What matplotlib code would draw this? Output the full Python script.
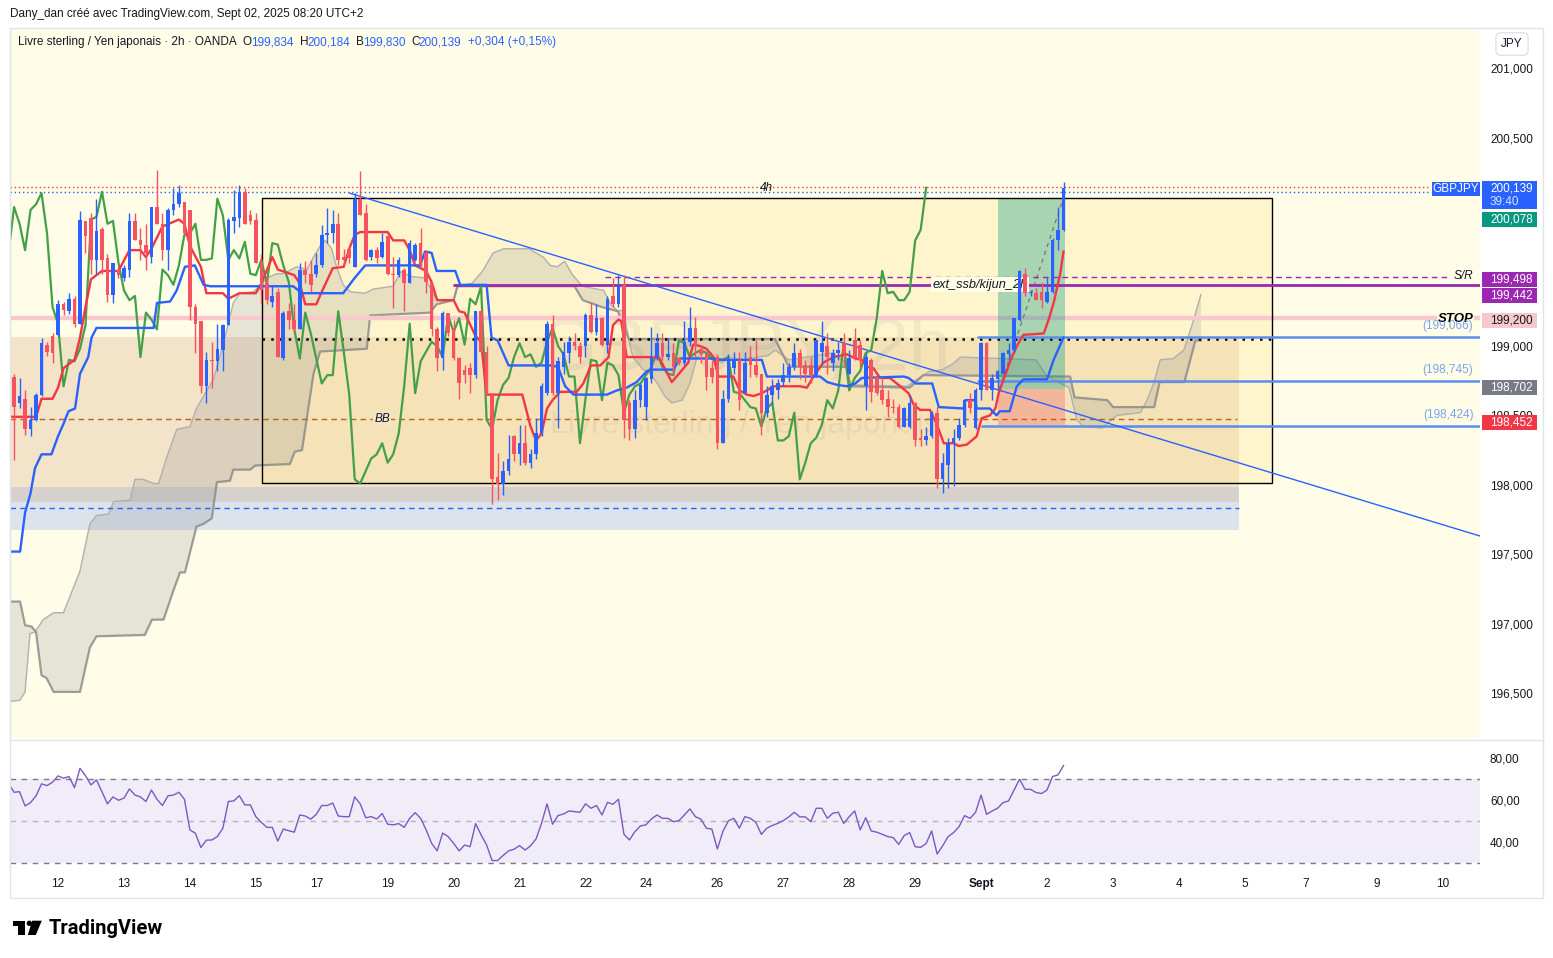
import numpy as np
import matplotlib.pyplot as plt
import matplotlib.transforms as mtransforms
from matplotlib.patches import Rectangle, Polygon, Ellipse
from matplotlib.lines import Line2D

plt.rcParams['font.family'] = ['Liberation Sans', 'DejaVu Sans']

W, H = 1553, 958

# bar index 0 = Tue 12 Aug 2025 00:00 (2h bars, UTC+2); first visible candle is bar -8
first_bar = -8
opens = [198.78, 198.59, 198.62, 198.40, 198.47, 198.65, 199.01, 199.07,
         199.08, 199.30, 199.25, 199.34, 199.16, 199.90, 199.92, 199.62, 199.84, 199.63, 199.37, 199.55,
         199.49, 199.55, 199.90, 199.76, 199.73, 199.64, 200.00, 199.88, 199.69, 199.98, 200.02, 200.04,
         199.98, 199.28, 199.18, 198.71, 198.90, 198.89, 198.97, 199.15, 199.90, 199.92, 200.11, 199.94,
         199.91, 199.60, 199.45, 199.32, 199.39, 198.91, 199.25, 199.19, 199.12, 199.55, 199.52, 199.52,
         199.58, 199.80, 199.81, 199.88, 199.64, 199.70, 199.57, 200.06, 199.96, 199.64, 199.69, 199.64,
         199.79, 199.52, 199.51, 199.55, 199.45, 199.62, 199.74, 199.67, 199.46, 199.12, 198.91, 199.24,
         199.12, 198.91, 198.83, 198.84, 198.79, 199.25, 198.96, 198.65, 198.06, 198.01, 198.10, 198.35,
         198.22, 198.30, 198.16, 198.22, 198.37, 198.66, 199.16, 198.66, 198.85, 198.95, 199.03, 199.00,
         199.00, 199.22, 199.10, 199.20, 199.01, 199.36, 199.30, 199.44, 198.59, 198.40, 198.61, 198.56,
         198.76, 198.92, 199.02, 198.92, 198.95, 198.91, 198.88, 199.03, 199.13, 198.98, 198.94, 198.84,
         198.92, 198.30, 198.62, 198.84, 198.90, 198.66, 198.92, 198.86, 198.80, 198.52, 198.65, 198.68,
         198.74, 198.79, 198.85, 198.95, 198.86, 198.86, 198.79, 198.96, 199.00, 198.88, 198.95, 199.02,
         198.80, 199.04, 199.01, 198.71, 198.90, 198.78, 198.68, 198.62, 198.56, 198.56, 198.42, 198.42,
         198.59, 198.34, 198.32, 198.35, 198.52, 198.04, 198.14, 198.30, 198.34, 198.43, 198.61, 198.41,
         198.68, 199.02, 198.68, 198.76, 198.80, 198.94, 198.97, 199.19, 199.52, 199.38, 199.38, 199.39,
         199.32, 199.39, 199.76, 199.834]
highs = [198.80, 198.77, 198.68, 198.56, 198.66, 199.06, 199.03, 199.09,
         199.33, 199.32, 199.38, 199.36, 199.97, 199.90, 199.96, 200.06, 199.86, 199.66, 199.60, 199.57,
         199.58, 199.96, 199.96, 199.85, 199.88, 200.00, 200.27, 199.96, 199.99, 200.14, 200.16, 200.04,
         199.98, 199.30, 199.18, 198.96, 199.03, 199.16, 199.16, 199.92, 200.12, 200.16, 200.14, 199.98,
         199.96, 199.66, 199.50, 199.44, 199.42, 199.25, 199.31, 199.30, 199.60, 199.61, 199.62, 199.67,
         199.87, 199.99, 199.98, 199.96, 199.70, 199.72, 200.10, 200.26, 200.02, 199.70, 199.71, 199.81,
         199.80, 199.64, 199.64, 199.56, 199.76, 199.74, 199.85, 199.69, 199.46, 199.14, 199.25, 199.24,
         199.19, 198.92, 198.86, 198.88, 199.25, 199.25, 199.00, 198.66, 198.23, 198.17, 198.36, 198.36,
         198.43, 198.43, 198.26, 198.48, 198.73, 199.18, 199.22, 198.92, 199.03, 199.07, 199.09, 199.03,
         199.24, 199.32, 199.30, 199.21, 199.36, 199.49, 199.51, 199.51, 198.61, 198.68, 198.73, 198.78,
         199.14, 199.09, 199.09, 199.06, 199.02, 198.92, 199.18, 199.28, 199.21, 199.01, 198.95, 198.90,
         198.94, 198.68, 198.94, 198.96, 198.96, 198.96, 199.00, 199.04, 198.80, 198.71, 198.76, 198.76,
         198.88, 198.88, 199.02, 198.98, 198.90, 198.92, 199.04, 199.18, 199.09, 198.98, 199.03, 199.09,
         198.97, 199.13, 199.04, 198.95, 198.91, 198.78, 198.78, 198.68, 198.62, 198.58, 198.56, 198.65,
         198.60, 198.40, 198.42, 198.53, 198.56, 198.23, 198.34, 198.40, 198.48, 198.62, 198.66, 198.70,
         199.03, 199.03, 198.80, 198.83, 198.96, 199.02, 199.20, 199.55, 199.56, 199.40, 199.42, 199.46,
         199.50, 199.78, 200.00, 200.184]
lows = [198.18, 198.55, 198.36, 198.35, 198.46, 198.64, 198.93, 198.88,
        199.07, 199.22, 199.23, 199.14, 199.16, 199.67, 199.52, 199.52, 199.52, 199.32, 199.31, 199.49,
        199.47, 199.50, 199.76, 199.62, 199.55, 199.60, 199.88, 199.62, 199.55, 199.94, 200.00, 199.80,
        199.19, 198.95, 198.66, 198.59, 198.70, 198.82, 198.82, 199.15, 199.81, 199.86, 199.88, 199.88,
        199.60, 199.31, 199.30, 199.28, 198.92, 198.90, 199.12, 199.10, 199.12, 199.45, 199.39, 199.50,
        199.57, 199.74, 199.74, 199.58, 199.58, 199.60, 199.57, 199.94, 199.61, 199.62, 199.60, 199.63,
        199.51, 199.27, 199.50, 199.25, 199.45, 199.61, 199.57, 199.38, 199.07, 198.82, 198.83, 199.07,
        198.90, 198.62, 198.73, 198.66, 198.77, 198.95, 198.65, 197.86, 197.89, 197.93, 198.07, 198.17,
        198.14, 198.14, 198.12, 198.19, 198.35, 198.65, 198.65, 198.41, 198.80, 198.88, 198.97, 198.88,
        198.92, 199.09, 199.08, 199.00, 198.95, 199.28, 199.28, 198.34, 198.32, 198.34, 198.56, 198.47,
        198.73, 198.90, 198.90, 198.90, 198.80, 198.86, 198.86, 199.00, 198.92, 198.88, 198.68, 198.73,
        198.26, 198.30, 198.60, 198.80, 198.54, 198.66, 198.78, 198.78, 198.36, 198.49, 198.58, 198.62,
        198.71, 198.74, 198.83, 198.76, 198.74, 198.73, 198.78, 198.88, 198.80, 198.82, 198.90, 198.85,
        198.80, 198.90, 198.85, 198.54, 198.60, 198.65, 198.58, 198.49, 198.52, 198.41, 198.42, 198.41,
        198.28, 198.28, 198.29, 198.34, 197.98, 197.94, 197.98, 197.99, 198.32, 198.42, 198.52, 198.40,
        198.61, 198.68, 198.61, 198.68, 198.80, 198.90, 198.96, 199.18, 199.36, 199.36, 199.33, 199.27,
        199.31, 199.38, 199.69, 199.830]
closes = [198.56, 198.64, 198.40, 198.47, 198.65, 199.02, 198.96, 198.95,
          199.30, 199.26, 199.34, 199.16, 199.91, 199.79, 199.62, 199.83, 199.62, 199.37, 199.60, 199.51,
          199.56, 199.90, 199.76, 199.73, 199.67, 200.00, 199.88, 199.69, 199.98, 200.02, 200.10, 199.81,
          199.28, 199.16, 198.71, 198.90, 198.89, 198.98, 199.15, 199.91, 199.93, 200.11, 199.88, 199.90,
          199.60, 199.40, 199.33, 199.36, 198.92, 199.24, 199.19, 199.12, 199.55, 199.51, 199.44, 199.58,
          199.80, 199.81, 199.88, 199.62, 199.62, 199.63, 200.06, 199.94, 199.62, 199.69, 199.63, 199.75,
          199.52, 199.51, 199.62, 199.45, 199.74, 199.73, 199.58, 199.46, 199.12, 198.91, 199.24, 199.09,
          198.91, 198.73, 198.79, 198.79, 199.25, 198.96, 198.65, 198.04, 198.01, 198.10, 198.19, 198.22,
          198.30, 198.16, 198.22, 198.37, 198.71, 199.16, 198.66, 198.89, 198.96, 199.03, 199.00, 198.92,
          199.22, 199.10, 199.20, 199.01, 199.34, 199.30, 199.43, 198.47, 198.40, 198.61, 198.72, 198.77,
          198.92, 199.02, 198.92, 198.94, 198.85, 198.88, 199.03, 199.13, 199.00, 198.94, 198.78, 198.78,
          198.30, 198.62, 198.90, 198.89, 198.61, 198.88, 198.86, 198.79, 198.52, 198.65, 198.71, 198.73,
          198.79, 198.85, 198.95, 198.85, 198.80, 198.79, 199.04, 199.02, 198.92, 198.95, 198.97, 198.95,
          198.91, 198.91, 198.90, 198.92, 198.67, 198.66, 198.61, 198.56, 198.55, 198.42, 198.55, 198.59,
          198.32, 198.32, 198.35, 198.52, 198.04, 198.16, 198.30, 198.34, 198.43, 198.61, 198.55, 198.68,
          199.02, 198.68, 198.77, 198.82, 198.95, 198.97, 199.20, 199.54, 199.38, 199.39, 199.33, 199.33,
          199.39, 199.76, 199.835, 200.139]

# ichimoku lines (bar index, price)
tenkan_x = [-9, -4, -3, -1, 0, 1, 3, 4, 5, 6, 8, 11, 13, 15, 16, 17, 19, 22, 23, 24, 26, 27, 30, 31, 33, 36,
            37, 39, 40, 43, 44, 45, 47, 48, 50, 52, 53, 54, 55, 60, 61, 63, 64, 65, 67, 68, 69, 72, 73, 74,
            76, 77, 78, 84.5, 86, 87, 88, 89, 90, 91.4, 94.4, 95.6, 97, 98.7, 100.2, 101, 102, 102.5, 103.5,
            107.7, 109.5, 111.7, 113, 114.7, 115.6, 116.8, 118, 119.3, 120.2, 122.9, 124.1, 125.3, 126.6,
            128.1, 129, 130.2, 135, 136.3, 137.5, 139.3, 141.1, 143.6, 145.1, 146.3, 147.2, 148.4, 149.6,
            151.4, 153.3, 154.8, 155.7, 156.9, 158.7, 160, 161.2, 163, 163.9, 165.4, 167.2, 168.1, 169.6,
            170.6, 171.2, 172.1, 173.3, 174.5, 175.7, 179.4, 180.3, 181.2, 182.4, 183]
tenkan_y = [198.49, 198.49, 198.62, 198.62, 198.70, 198.84, 198.90, 199.06, 199.28, 199.48, 199.54, 199.54,
            199.69, 199.69, 199.64, 199.70, 199.86, 199.91, 199.88, 199.72, 199.57, 199.38, 199.38, 199.34,
            199.38, 199.38, 199.45, 199.64, 199.55, 199.51, 199.45, 199.30, 199.30, 199.39, 199.56, 199.57,
            199.70, 199.80, 199.82, 199.82, 199.76, 199.76, 199.69, 199.58, 199.54, 199.46, 199.33, 199.33,
            199.25, 199.24, 199.07, 199.03, 198.65, 198.65, 198.42, 198.32, 198.37, 198.55, 198.61, 198.67,
            198.67, 198.73, 198.86, 198.86, 198.92, 199.15, 199.19, 199.18, 198.92, 198.92, 198.91, 198.74,
            198.80, 198.88, 199.01, 199.00, 198.98, 198.92, 198.78, 198.78, 198.68, 198.65, 198.64, 198.66,
            198.68, 198.71, 198.71, 198.70, 198.78, 198.88, 198.92, 198.94, 198.91, 198.90, 198.85, 198.84,
            198.77, 198.77, 198.71, 198.66, 198.58, 198.54, 198.54, 198.43, 198.30, 198.30, 198.28, 198.29,
            198.35, 198.48, 198.50, 198.55, 198.66, 198.76, 198.89, 199.00, 199.08, 199.09, 199.19, 199.31,
            199.52, 199.68]
kijun_x = [-9, -6.9, -6, -5, -4.2, -3, -1.2, 0, 1, 1.9, 3.1, 4, 5.5, 6.1, 7, 17.4, 18, 20.4, 21.6, 23.1,
           24.9, 26.5, 27.7, 42.8, 44.4, 51.9, 53.8, 55.9, 65.9, 66.8, 68, 68.9, 72.3, 73.2, 78, 78.9, 80,
           82, 89.6, 91, 92.3, 93.8, 99.9, 101.7, 103.5, 105.3, 107.2, 108.4, 112, 113.2, 118.7, 119.9,
           128.1, 129, 138.7, 140, 141.8, 143.6, 145.1, 146.3, 153.9, 154.8, 156.1, 159.1, 160.3, 164.8,
           165.1, 166.9, 167.2, 169.6, 170.8, 171.4, 173.2, 174.5, 175.7, 180, 181.2, 183]
kijun_y = [197.52, 197.52, 197.80, 197.94, 198.12, 198.22, 198.22, 198.35, 198.44, 198.53, 198.55, 198.80,
           198.92, 199.06, 199.13, 199.13, 199.31, 199.32, 199.40, 199.57, 199.58, 199.44, 199.43, 199.43,
           199.38, 199.38, 199.48, 199.58, 199.58, 199.68, 199.67, 199.54, 199.54, 199.44, 199.44, 199.06,
           199.04, 198.86, 198.86, 198.85, 198.71, 198.65, 198.65, 198.68, 198.70, 198.74, 198.82, 198.83,
           198.83, 198.91, 198.91, 198.90, 198.90, 198.78, 198.78, 198.74, 198.72, 198.71, 198.73, 198.77,
           198.78, 198.77, 198.73, 198.73, 198.56, 198.55, 198.61, 198.61, 198.55, 198.55, 198.50, 198.53,
           198.53, 198.71, 198.76, 198.76, 198.90, 199.06]
span_a_x = [-9, -6.9, -6, -5.1, -4.2, -2.7, -0.8, 1, 2.2, 4, 5.8, 7, 9.2, 10.1, 13.1, 14, 15.5, 17.4, 18.3,
            19.8, 21.6, 24, 25.2, 26.5, 28.3, 30, 31.9, 33.1, 35.6, 38, 39.8, 41, 43.4, 45.3, 46.5, 47.7,
            48.6, 49.8, 50.7, 51.9, 53.2, 55.9, 57.4, 61, 62.3, 64.2, 66.8, 68.8, 70.1, 72, 72.7, 75.3,
            77.2, 79.2, 81.1, 85.7, 88.3, 89.6, 90.9, 92.2, 93.5, 95.4, 97.4, 99.3, 100.6, 101.9, 102.9,
            103.9, 104.6, 106.5, 107.8, 109.1, 110.4, 111.7, 113.6, 115, 116.3, 117.6, 118.8, 119.5,
            120.8, 122.1, 124.7, 127.3, 129.2, 130.5, 133, 141, 143.5, 144.2, 154.6, 155.9, 158.5, 161,
            163, 164.2, 178, 180, 184, 185.4, 186.6, 190, 192.7, 197, 198.2, 199.4, 200.6, 203, 204.9,
            206.7, 208]
span_a_y = [196.44, 196.45, 196.51, 196.93, 196.94, 197.03, 197.08, 197.08, 197.20, 197.38, 197.72, 197.78,
            197.79, 197.88, 197.89, 198.04, 198.04, 198.01, 198.01, 198.20, 198.40, 198.42, 198.55, 198.64,
            198.76, 199.00, 199.31, 199.38, 199.39, 199.49, 199.52, 199.52, 199.57, 199.55, 199.64, 199.72,
            199.76, 199.70, 199.57, 199.44, 199.39, 199.38, 199.41, 199.43, 199.535, 199.50, 199.49, 199.34,
            199.32, 199.33, 199.43, 199.45, 199.535, 199.67, 199.70, 199.70, 199.64, 199.58, 199.57, 199.61,
            199.52, 199.43, 199.415, 199.40, 199.30, 199.25, 199.26, 199.04, 198.92, 198.83, 198.80, 198.73,
            198.64, 198.59, 198.61, 198.73, 198.92, 198.95, 198.95, 198.90, 198.88, 198.92, 198.90, 198.92,
            198.93, 198.97, 198.90, 198.95, 198.88, 198.72, 198.71, 198.75, 198.815, 198.83, 198.875,
            198.92, 198.90, 198.78, 198.70, 198.47, 198.42, 198.41, 198.50, 198.52, 198.61, 198.73, 198.90,
            198.91, 198.97, 199.19, 199.37]
span_b_x = [-9, -6.9, -6, -4.8, -4, -3, -2.1, -0.8, 4, 5.8, 7, 15.8, 17.1, 19.2, 21, 22.2, 23.1, 25.2, 26.5,
            28, 28.9, 31.3, 31.9, 35, 35.9, 42.2, 43.1, 44.4, 46.5, 47.7, 56.2, 56.8, 67.7, 68.9, 72, 72.7,
            94, 95.5, 99, 101.9, 103.9, 130.5, 133, 143.5, 144.2, 155, 157.5, 184.2, 185, 191, 192, 199.5,
            200.5, 205, 207, 208]
span_b_y = [197.16, 197.16, 196.99, 196.98, 196.94, 196.63, 196.61, 196.51, 196.51, 196.83, 196.91, 196.92,
            197.03, 197.03, 197.24, 197.37, 197.37, 197.70, 197.72, 197.76, 198.02, 198.03, 198.11, 198.11,
            198.14, 198.15, 198.24, 198.25, 198.80, 198.96, 198.98, 199.22, 199.24, 199.30, 199.33, 199.43,
            199.43, 199.33, 199.28, 199.25, 199.05, 199.05, 198.85, 198.85, 198.71, 198.70, 198.79, 198.78,
            198.63, 198.61, 198.56, 198.56, 198.74, 198.74, 199.04, 199.04]
lag = 25  # chikou span is the close drawn 25 bars back

# RSI(14), one value per bar from bar -9
rsi_first_bar = -9
rsi_values = [68.1, 63.8, 64.1, 57.3, 58.9, 62.1, 67.8, 67.0, 68.6,
              71.6, 70.5, 71.3, 66.0, 75.2, 71.7, 67.3, 69.7, 64.0, 58.3, 61.6, 60.0,
              61.0, 65.4, 62.5, 61.6, 59.4, 64.9, 60.5, 57.5, 62.1, 62.5, 63.8, 60.5,
              45.9, 44.3, 37.5, 41.0, 41.1, 42.7, 46.7, 59.4, 59.7, 62.2, 57.8, 57.8,
              52.2, 49.5, 47.1, 47.1, 40.6, 46.3, 45.5, 44.8, 53.0, 52.5, 51.0, 53.3,
              57.5, 57.5, 58.7, 52.5, 52.2, 52.2, 61.6, 58.3, 51.7, 52.2, 51.1, 53.7,
              48.6, 48.3, 48.9, 47.1, 51.4, 54.1, 51.4, 45.9, 39.5, 35.9, 44.4, 42.7,
              39.5, 35.9, 38.7, 37.9, 48.9, 43.5, 38.7, 31.3, 31.3, 33.7, 35.9, 36.7,
              38.4, 36.3, 38.3, 41.6, 49.0, 58.3, 48.6, 52.7, 53.5, 54.9, 54.6, 54.3,
              58.3, 56.2, 57.5, 53.0, 59.0, 58.1, 60.5, 43.8, 41.1, 45.1, 47.8, 48.3,
              51.1, 53.0, 51.4, 51.4, 49.8, 50.3, 53.0, 55.9, 52.2, 51.0, 46.7, 46.3,
              36.8, 45.1, 50.2, 51.4, 46.7, 52.2, 51.4, 49.5, 43.8, 46.7, 48.0, 49.0,
              50.3, 52.1, 54.3, 52.1, 52.1, 49.8, 56.2, 56.2, 51.4, 53.8, 54.3, 49.0,
              52.2, 54.9, 45.9, 51.7, 45.4, 44.8, 43.8, 42.7, 42.2, 39.0, 43.2, 44.6,
              37.9, 37.6, 39.4, 45.4, 34.4, 38.3, 42.7, 44.6, 47.5, 52.7, 51.4, 54.3,
              62.5, 53.3, 54.9, 56.2, 58.9, 59.7, 64.9, 70.0, 65.2, 65.2, 63.7, 63.2,
              64.9, 71.3, 72.1, 76.5]

day_ticks = [0, 12, 24, 36, 47, 60, 72, 84, 96, 107, 120, 132, 144, 156, 168, 180, 192, 204, 216, 227, 240, 252]
day_labels = ['12', '13', '14', '15', '17', '19', '20', '21', '22', '24', '26', '27', '28', '29', 'Sept',
              '2', '3', '4', '5', '7', '9', '10']
price_ticks = [196.5, 197.0, 197.5, 198.0, 198.5, 199.0, 200.5, 201.0]
rsi_ticks = [40, 60, 80]

# drawings on the chart
stop_level = 199.200
sr_level = 199.498
ssb_level = 199.442
dotted_level = 199.048
bb_level = 198.472
fib_levels = [199.066, 198.745, 198.424]
zone_top, zone_gray, zone_blue, zone_bottom, zone_dash = 199.066, 197.987, 197.879, 197.675, 197.831
box_left, box_right, box_low, box_high = 37.1, 221.0, 198.014, 200.066
trend_x, trend_y = [53.1, 258.8], [200.10, 197.632]
entry, target, stop = 198.69, 200.066, 198.43
pos_left, pos_right = 171.1, 183.3
hi_dot, lo_dot = 200.143, 200.107

BG = '#fffde7'
BLUE = '#2962ff'
RED = '#f7525f'
TXT = '#131722'

fig = plt.figure(figsize=(W / 100, H / 100), dpi=100)
fig.patch.set_facecolor('white')
ax = fig.add_axes([10 / W, 1 - 738 / H, 1470 / W, 710 / H])
ax2 = fig.add_axes([10 / W, 1 - 870 / H, 1470 / W, 130 / H])

left_b, right_b = -8.74, 258.8
ax.set_xlim(left_b, right_b)
ax.set_ylim(196.178, 201.289)
ax.set_facecolor(BG)

# zones
zone_end = 215.0
ax.fill_between([left_b, zone_end], zone_gray, zone_top, color='#f2e3c9', lw=0, zorder=0.2)
ax.fill_between([left_b, zone_end], zone_blue, zone_gray, color='#d6d1cd', lw=0, zorder=0.2)
ax.fill_between([left_b, zone_end], zone_bottom, zone_blue, color='#dde3eb', lw=0, zorder=0.2)
ax.hlines(zone_dash, left_b, zone_end, colors=BLUE, linestyles=(0, (4, 3)), lw=1, zorder=1.2)
ax.hlines(bb_level, left_b, zone_end - 0.5, colors='#b5651d', linestyles=(0, (4, 3)), lw=1, zorder=1.2)
ax.add_patch(Rectangle((box_left, box_low), box_right - box_left, box_high - box_low,
                       fc='#ffe082', alpha=0.25, lw=0, zorder=0.4))

# watermark
ax.text(0.5, 0.546, 'GBPJPY, 2h', transform=ax.transAxes, fontsize=54, color='#787b86', alpha=0.1,
        ha='center', va='center', zorder=0.6)
ax.text(0.5, 0.441, 'Livre sterling / Yen japonais', transform=ax.transAxes, fontsize=23, color='#787b86',
        alpha=0.1, ha='center', va='center', zorder=0.6)

# cloud
cloud_x = np.concatenate([span_a_x, span_b_x[::-1]])
cloud_y = np.concatenate([span_a_y, span_b_y[::-1]])
ax.fill(cloud_x, cloud_y, color='#787b86', alpha=0.18, lw=0, zorder=1)
ax.plot(span_a_x, span_a_y, color='#b0b0b0', lw=1, zorder=1.1)
ax.plot(span_b_x, span_b_y, color='#8c8c8c', lw=1.6, alpha=0.85, zorder=1.1)

# levels
ax.hlines(stop_level, left_b, right_b, colors='#f8c8cc', lw=3.2, zorder=1.5)
ax.add_patch(Rectangle((pos_left, entry), pos_right - pos_left, target - entry,
                       fc='#089981', alpha=0.35, lw=0, zorder=1.8))
ax.add_patch(Rectangle((pos_left, stop), pos_right - pos_left, entry - stop,
                       fc='#f23645', alpha=0.25, lw=0, zorder=1.8))
ax.plot([pos_left + 0.2, pos_right - 0.3], [entry, target], color='#787b86', ls=(0, (3, 3)), lw=1, zorder=1.9)
ax.add_patch(Rectangle((box_left, box_low), box_right - box_left, box_high - box_low,
                       fill=False, ec='black', lw=1, zorder=2))
ax.hlines(dotted_level, box_left, box_right, colors='black', linestyles=(0, (1, 2.5)), lw=1.8, zorder=2.2)
ax.hlines(ssb_level, 71.9, right_b, colors='#9c27b0', lw=2, zorder=2.4)
ax.hlines(sr_level, 99.6, 253.4, colors='#9c27b0', linestyles=(0, (4, 3)), lw=1, zorder=2.4)
ax.hlines(fib_levels, [167.3, 167.3, 168.0], right_b, colors='#5b8def', lw=1.8, zorder=2.5)
ax.plot(trend_x, trend_y, color=BLUE, lw=1, zorder=2.6)
ax.hlines(hi_dot, left_b, 249.7, colors='#f23645', linestyles=(0, (1, 2)), lw=1, zorder=2.6)
ax.hlines(lo_dot, left_b, 249.7, colors=BLUE, linestyles=(0, (1, 2)), lw=1, zorder=2.6)

# ichimoku lines
bars = np.arange(first_bar, first_bar + len(closes))
ax.plot(bars - lag, closes, color='#43a047', lw=1.6, zorder=3)
ax.plot(tenkan_x, tenkan_y, color='#f23645', lw=1.7, zorder=3.2)
ax.plot(kijun_x, kijun_y, color=BLUE, lw=1.7, zorder=3.2)

# candles
o = np.array(opens)
c = np.array(closes)
h = np.array(highs)
l = np.array(lows)
col = np.where(c >= o, BLUE, RED)
ax.vlines(bars, l, h, colors=col, lw=1, zorder=4)
ax.bar(bars, np.maximum(np.abs(c - o), 0.008), bottom=np.minimum(o, c), width=0.66,
       color=col, lw=0, zorder=4.1)

# drawing labels
ax.text(129, 200.14, '4h', fontsize=8.5, style='italic', color=TXT, ha='center', va='center', zorder=5)
ax.text(59, bb_level, 'BB', fontsize=8.5, style='italic', color=TXT, ha='center', va='center', zorder=5,
        bbox=dict(fc='#f2e3c9', ec='none', pad=1))
ax.text(167.8, ssb_level, 'ext_ssb/kijun_2h', fontsize=9.2, style='italic', color=TXT, ha='center',
        va='center', zorder=3.5, bbox=dict(fc=BG, ec='none', pad=0.8))
ax.text(257.6, sr_level + 0.005, 'S/R', fontsize=8.5, style='italic', color=TXT, ha='right', va='center', zorder=5)
ax.text(257.6, stop_level - 0.004, 'STOP', fontsize=9.5, style='italic', weight='bold', color='black',
        ha='right', va='center', zorder=5, bbox=dict(fc=BG, ec='none', pad=0.6))
for lvl, dy in zip(fib_levels, [0.078, 0.082, 0.079]):
    ax.text(257.6, lvl + dy, '(' + f'{lvl:.3f}'.replace('.', ',') + ')', fontsize=8.5, color='#5b8def',
            alpha=0.8, ha='right', va='center', zorder=5)

# legend row
parts = [('Livre sterling / Yen japonais · 2h · OANDA', TXT), ('O', TXT), (f'{opens[-1]:.3f}', BLUE),
         ('H', TXT), (f'{highs[-1]:.3f}', BLUE), ('B', TXT), (f'{lows[-1]:.3f}', BLUE),
         ('C', TXT), (f'{closes[-1]:.3f}', BLUE), ('+0,304 (+0,15%)', BLUE)]
t = ax.text(0.0054, 0.980, parts[0][0], transform=ax.transAxes, fontsize=8.5, color=TXT, va='center', zorder=6)
for s, cc in parts[1:]:
    gap = -0.8 if s[0].isdigit() else 4.5
    t = ax.annotate(s.replace('.', ','), xy=(1, 0), xycoords=t, xytext=(gap, 0), textcoords='offset points',
                    fontsize=8.5, color=cc, ha='left', va='bottom', zorder=6)

# price axis
ax.set_xticks([])
ax.yaxis.tick_right()
ax.set_yticks(price_ticks)
ax.set_yticklabels([f'{v:.3f}'.replace('.', ',') for v in price_ticks])
ax.tick_params(axis='y', length=0, pad=7.2, labelsize=8.5, labelcolor=TXT)
for s in ax.spines.values():
    s.set_visible(False)

trans = mtransforms.blended_transform_factory(ax.transAxes, ax.transData)
tag_vals = [200.078, 199.498, 199.442, 199.200, 198.702, 198.452]
tag_pos = [199.914, 199.482, 199.360, 199.187, 198.700, 198.446]
tag_fc = ['#089981', '#9c27b0', '#9c27b0', '#f8c8cc', '#787b86', '#f23645']
tag_tc = ['white', 'white', 'white', TXT, 'white', 'white']
th = 0.108
for v, yp, fc, tc in zip(tag_vals, tag_pos, tag_fc, tag_tc):
    ax.add_patch(Rectangle((1.0014, yp - th / 2), 0.0374, th, transform=trans, fc=fc, ec='none',
                           clip_on=False, zorder=20))
    ax.text(1.0068, yp, f'{v:.3f}'.replace('.', ','), transform=trans, fontsize=8.5, color=tc,
            va='center', ha='left', clip_on=False, zorder=21)
ax.add_patch(Rectangle((1.0014, 199.986), 0.0374, 0.202, transform=trans, fc=BLUE, ec='none',
                       clip_on=False, zorder=20))
ax.text(1.0068, 200.137, f'{closes[-1]:.3f}'.replace('.', ','), transform=trans, fontsize=8.5,
        color='white', va='center', ha='left', clip_on=False, zorder=21)
ax.text(1.0068, 200.036, '39:40', transform=trans, fontsize=8.5, color='#d6e2ff', va='center',
        ha='left', clip_on=False, zorder=21)
ax.add_patch(Rectangle((0.9673, 200.080), 0.0327, 0.101, transform=trans, fc=BLUE, ec='none',
                       clip_on=False, zorder=20))
ax.text(0.9836, 200.130, 'GBPJPY', transform=trans, fontsize=8.5, color='white', va='center',
        ha='center', clip_on=False, zorder=21)

# RSI panel
ax2.set_xlim(left_b, right_b)
ax2.set_ylim(26.8, 88.7)
ax2.set_facecolor('white')
ax2.axhspan(30, 70, color='#7e57c2', alpha=0.1, lw=0)
ax2.axhline(70, color='#787b86', ls=(0, (4, 4)), lw=1)
ax2.axhline(50, color='#787b86', alpha=0.5, ls=(0, (4, 4)), lw=1)
ax2.axhline(30, color='#787b86', ls=(0, (4, 4)), lw=1)
rsi_bars = np.arange(rsi_first_bar, rsi_first_bar + len(rsi_values))
ax2.plot(rsi_bars, rsi_values, color='#7e57c2', lw=1)
ax2.yaxis.tick_right()
ax2.set_yticks(rsi_ticks)
ax2.set_yticklabels([f'{v:.2f}'.replace('.', ',') for v in rsi_ticks])
ax2.set_xticks(day_ticks)
ax2.set_xticklabels(day_labels)
ax2.tick_params(axis='y', length=0, pad=7.2, labelsize=8.5, labelcolor=TXT)
ax2.tick_params(axis='x', length=0, pad=6, labelsize=8.5, labelcolor=TXT)
for lab in ax2.get_xticklabels():
    if lab.get_text() == 'Sept':
        lab.set_fontweight('bold')
for s in ax2.spines.values():
    s.set_visible(False)


def fx(x):
    return x / W


def fy(y):
    return 1 - y / H


# frame, header, logo
fig.add_artist(Rectangle((fx(9.5), fy(897.5)), fx(1542.5) - fx(9.5), fy(28) - fy(897.5),
                         transform=fig.transFigure, fill=False, ec='#e0e3eb', lw=1))
fig.add_artist(Line2D([fx(9.5), fx(1542.5)], [fy(739.5), fy(739.5)], transform=fig.transFigure,
                      color='#e0e3eb', lw=1))
fig.text(fx(10), fy(14), 'Dany_dan créé avec TradingView.com, Sept 02, 2025 08:20 UTC+2',
         fontsize=8.5, color=TXT, va='center', ha='left')
fig.text(fx(1512), fy(44), 'JPY', fontsize=8.5, color=TXT, va='center', ha='center',
         bbox=dict(fc='white', ec='#e0e3eb', boxstyle='round,pad=0.45'))

fig.add_artist(Polygon([(fx(12.7), fy(920.7)), (fx(25), fy(920.7)), (fx(25), fy(935)), (fx(18.3), fy(935)),
                        (fx(18.3), fy(925.5)), (fx(12.7), fy(925.5))], closed=True,
                       transform=fig.transFigure, fc='black', ec='none'))
fig.add_artist(Ellipse((fx(29.3), fy(923.3)), 5.4 / W, 5.4 / H, transform=fig.transFigure, fc='black', ec='none'))
fig.add_artist(Polygon([(fx(32.2), fy(920.7)), (fx(41.8), fy(920.7)), (fx(35.8), fy(935)), (fx(27.8), fy(935))],
                       closed=True, transform=fig.transFigure, fc='black', ec='none'))
fig.text(fx(49), fy(928), 'TradingView', fontsize=14.5, weight='bold', color='black', va='center', ha='left',
         family=['Roboto', 'DejaVu Sans'])

fig.savefig('out.png', dpi=100)
